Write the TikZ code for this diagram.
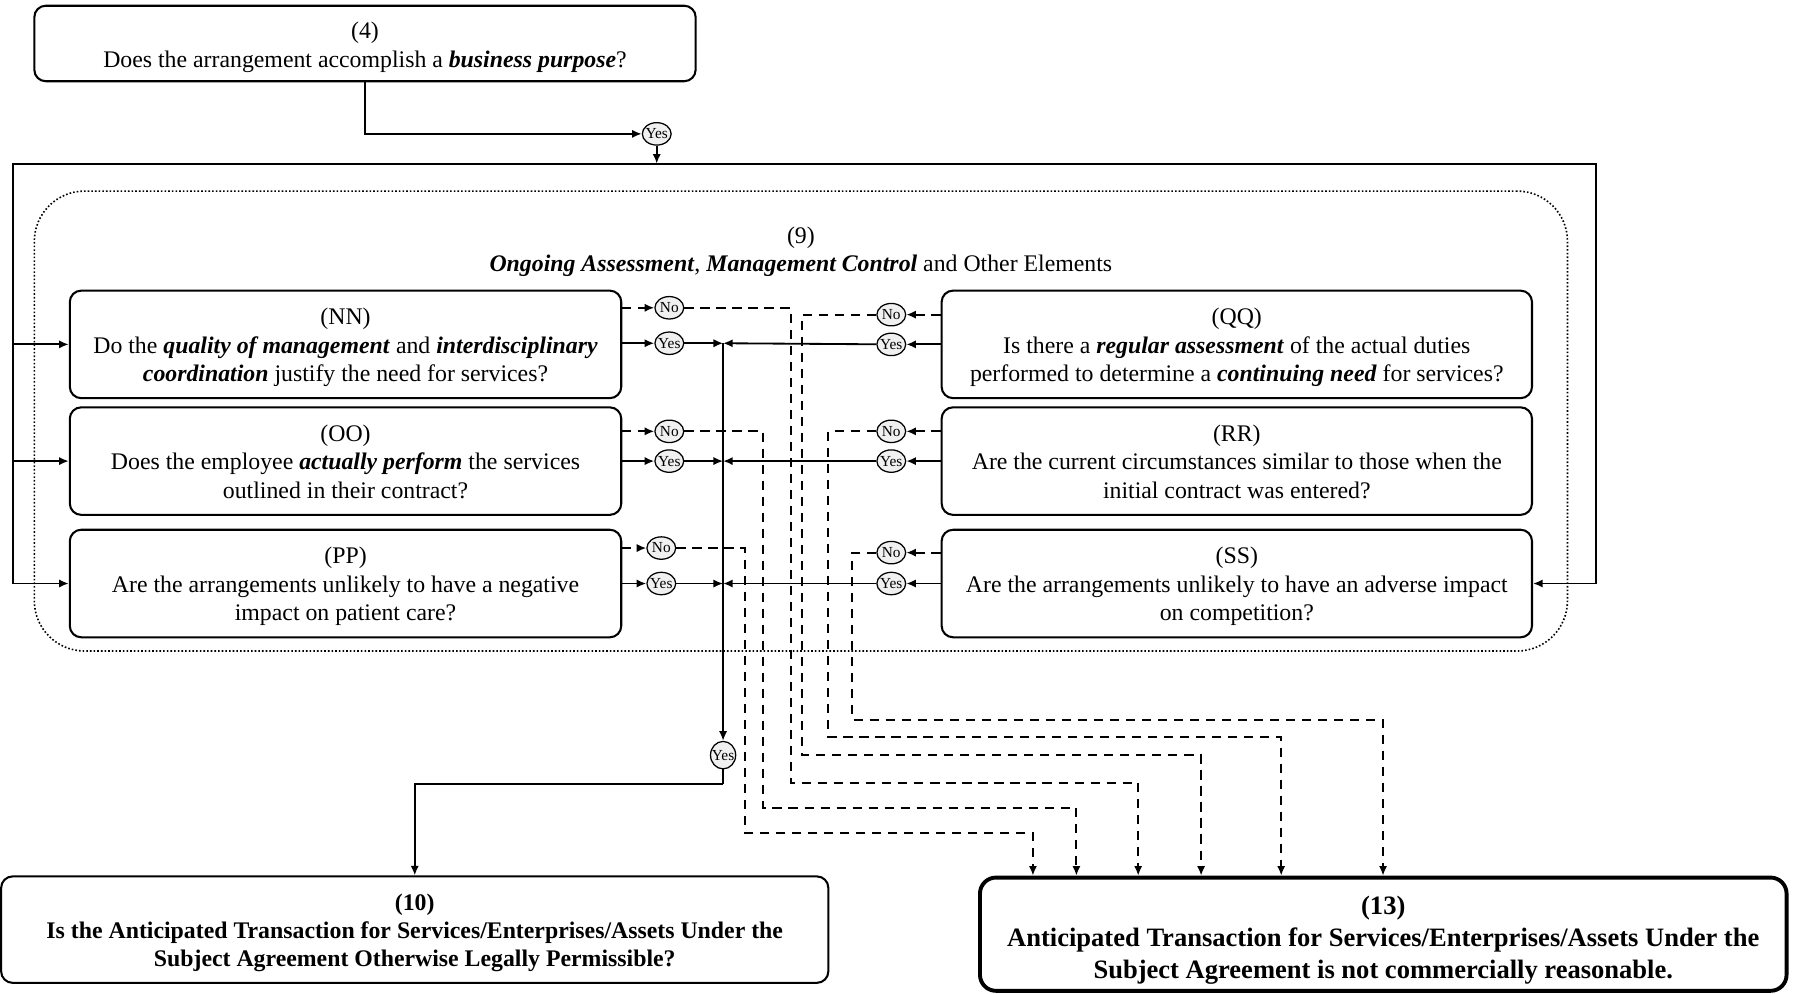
\documentclass[tikz,border=0pt]{standalone}
\usepackage{fontspec}
\setmainfont{Liberation Serif}
\usetikzlibrary{arrows.meta,shapes.geometric}
\newcommand{\emphb}[1]{\textbf{\textit{#1}}}

\begin{document}
\begin{tikzpicture}[x=0.5pt,y=-0.5pt,
  qbox/.style={draw,line width=0.9pt,rounded corners=5pt,align=center,
    inner sep=0pt,text depth=0pt,font=\fontsize{10.4}{12.5}\selectfont},
  three/.style={text height=32.6pt},
  two/.style={text height=20.6pt},
  lbox/.style={qbox,three,minimum width=241pt,minimum height=47pt},
  rbox/.style={qbox,three,minimum width=258pt,minimum height=47pt},
  ans/.style={ellipse,draw,line width=0.55pt,fill=gray!12,inner sep=-2pt,
    minimum width=12.6pt,minimum height=9.8pt,font=\fontsize{6.7}{6.7}\selectfont},
  tip/.style={-{Latex[length=4.2pt,width=3.6pt]}},
  plain/.style={line width=0.8pt},
  flow/.style={plain,tip},
  nodash/.style={line width=0.8pt,dash pattern=on 4pt off 3pt},
  noflow/.style={nodash,tip},
]
\useasboundingbox (0,0) rectangle (1568,868);

% question (4)
\node[qbox,two,minimum width=289pt,minimum height=33pt] (B4) at (319,38)
  {(4)\\Does the arrangement accomplish a \emphb{business purpose}?};

% group (9)
\node[draw,line width=0.7pt,dash pattern=on 0.7pt off 0.9pt,rounded corners=22pt,
  minimum width=670pt,minimum height=201pt] (G9) at (700,368) {};
\node[align=center,inner sep=0pt,text depth=0pt,two,
  font=\fontsize{10.4}{12.5}\selectfont] (T9) at (700,217)
  {(9)\\\emphb{Ongoing Assessment}, \emphb{Management Control} and Other Elements};

% left column
\node[lbox] (NN) at (302,301)
  {(NN)\\Do the \emphb{quality of management} and \emphb{interdisciplinary}\\
   \emphb{coordination} justify the need for services?};
\node[lbox] (OO) at (302,403)
  {(OO)\\Does the employee \emphb{actually perform} the services\\
   outlined in their contract?};
\node[lbox] (PP) at (302,510)
  {(PP)\\Are the arrangements unlikely to have a negative\\
   impact on patient care?};

% right column
\node[rbox] (QQ) at (1081,301)
  {(QQ)\\Is there a \emphb{regular assessment} of the actual duties\\
   performed to determine a \emphb{continuing need} for services?};
\node[rbox] (RR) at (1081,403)
  {(RR)\\Are the current circumstances similar to those when the\\
   initial contract was entered?};
\node[rbox] (SS) at (1081,510)
  {(SS)\\Are the arrangements unlikely to have an adverse impact\\
   on competition?};

% outcomes
\node[qbox,font=\bfseries\fontsize{10.4}{12.3}\selectfont,text height=32.4pt,
  minimum width=361.5pt,minimum height=46.5pt] (B10) at (362.5,812.5)
  {(10)\\Is the Anticipated Transaction for Services/Enterprises/Assets Under the\\
   Subject Agreement Otherwise Legally Permissible?};
\node[qbox,line width=1.7pt,rounded corners=7pt,font=\bfseries\fontsize{11.6}{14}\selectfont,
  text height=38.7pt,minimum width=352.5pt,minimum height=49.5pt] (B13) at (1209,816.5)
  {(13)\\Anticipated Transaction for Services/Enterprises/Assets Under the\\
   Subject Agreement is not commercially reasonable.};

% answer marks
\node[ans] (yTop) at (574,117) {Yes};
\node[ans] (nnNo) at (585,269) {No};
\node[ans] (nnYes) at (585,300) {Yes};
\node[ans] (ooNo) at (585,377) {No};
\node[ans] (ooYes) at (585,403) {Yes};
\node[ans] (ppNo) at (578,479) {No};
\node[ans] (ppYes) at (578,510) {Yes};
\node[ans] (qqNo) at (779,275) {No};
\node[ans] (qqYes) at (779,301) {Yes};
\node[ans] (rrNo) at (779,377) {No};
\node[ans] (rrYes) at (779,403) {Yes};
\node[ans] (ssNo) at (779,483) {No};
\node[ans] (ssYes) at (779,510) {Yes};
\node[ans,minimum width=11pt,minimum height=12pt] (yBot) at (632,660) {Yes};

% junctions
\coordinate (topJ) at (574,143);
\coordinate (loopL) at (11,143);
\coordinate (loopR) at (1395,143);
\coordinate (cNN) at (632,300);
\coordinate (cOO) at (632,403);
\coordinate (cPP) at (632,510);
\coordinate (bend10) at (632,685);
\path (B13.north west) ++(48,0) coordinate (in1)
      (B13.north west) ++(86,0) coordinate (in2)
      (B13.north west) ++(140,0) coordinate (in3)
      (B13.north west) ++(195,0) coordinate (in4)
      (B13.north west) ++(265,0) coordinate (in5)
      (B13.north west) ++(354,0) coordinate (in6);

% (4) -> loop
\draw[flow] (B4.south) |- (yTop);
\draw[flow] (yTop) -- (topJ);
\draw[plain] (loopL |- PP.west) -- (loopL) -- (loopR) -- (loopR |- SS.east);
\draw[flow] (loopL |- NN.west) -- (NN.west);
\draw[flow] (loopL |- OO.west) -- (OO.west);
\draw[flow] (loopL |- PP.west) -- (PP.west);
\draw[flow] (loopR |- SS.east) -- (SS.east);

% yes branches
\draw[flow] (NN.east |- nnYes) -- (nnYes);
\draw[flow] (OO.east |- ooYes) -- (ooYes);
\draw[flow] (PP.east |- ppYes) -- (ppYes);
\draw[flow] (nnYes) -- (cNN);
\draw[flow] (ooYes) -- (cOO);
\draw[flow] (ppYes) -- (cPP);
\draw[flow] (QQ.west |- qqYes) -- (qqYes);
\draw[flow] (RR.west |- rrYes) -- (rrYes);
\draw[flow] (SS.west |- ssYes) -- (ssYes);
\draw[flow] (qqYes) -- (cNN);
\draw[flow] (rrYes) -- (cOO);
\draw[flow] (ssYes) -- (cPP);
\draw[flow] (cNN) -- (yBot);
\draw[plain] (yBot) -- (bend10);
\draw[flow] (bend10) -| (B10.north);

% no branches
\draw[noflow] (NN.east |- nnNo) -- (nnNo);
\draw[noflow] (OO.east |- ooNo) -- (ooNo);
\draw[noflow] (PP.east |- ppNo) -- (ppNo);
\draw[noflow] (QQ.west |- qqNo) -- (qqNo);
\draw[noflow] (RR.west |- rrNo) -- (rrNo);
\draw[noflow] (SS.west |- ssNo) -- (ssNo);
\draw[noflow] (ppNo) -| (651,728) -| (in1);
\draw[noflow] (ooNo) -| (667,706) -| (in2);
\draw[noflow] (nnNo) -| (691,684) -| (in3);
\draw[noflow] (qqNo) -| (701,660) -| (in4);
\draw[noflow] (rrNo) -| (724,644) -| (in5);
\draw[noflow] (ssNo) -| (745,629) -| (in6);
\end{tikzpicture}
\end{document}
